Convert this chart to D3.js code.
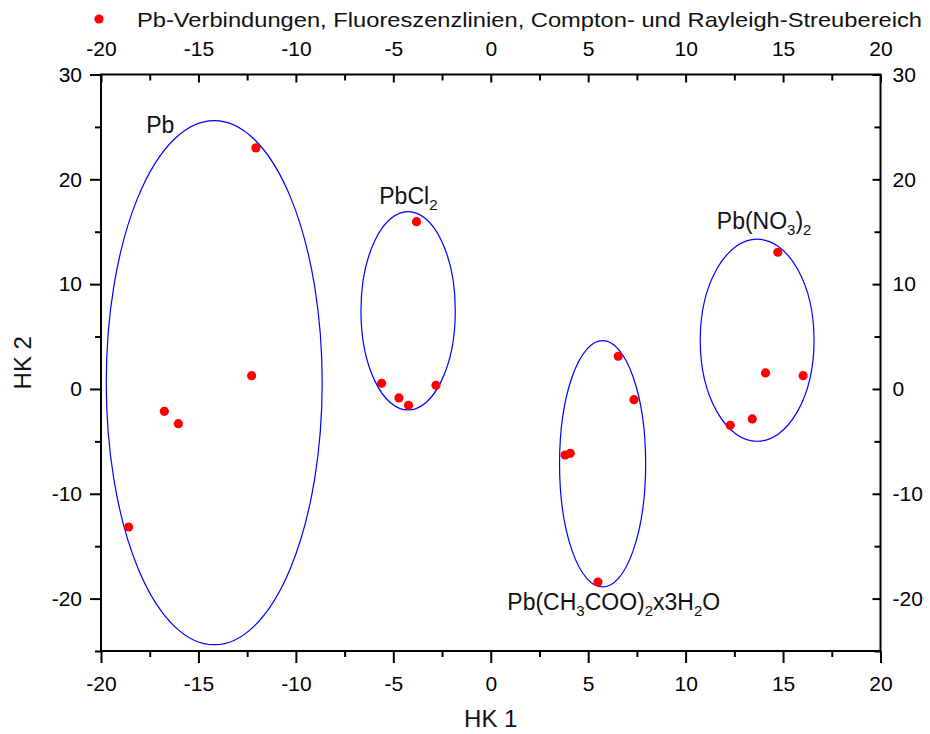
<!DOCTYPE html>
<html>
<head>
<meta charset="utf-8">
<script src="https://cdn.jsdelivr.net/npm/d3@7"></script>
<style>
  html, body { margin: 0; padding: 0; background: #fff; }
  svg { display: block; font-family: "Liberation Sans", Arial, sans-serif; }
</style>
</head>
<body>
<svg id="chart" width="930" height="734"></svg>
<script>
// Principal component scores (HK 1, HK 2) per sample, grouped by compound
const groupNames = ["Pb", "PbCl2", "Pb(CH3COO)2x3H2O", "Pb(NO3)2"];
const pointGroup = [0, 0, 0, 0, 0,  1, 1, 1, 1, 1,  2, 2, 2, 2, 2,  3, 3, 3, 3, 3];
const hk1Values  = [-12.05, -12.27, -16.75, -16.03, -18.58,
                    -3.81, -5.60, -2.81, -4.71, -4.22,
                     6.54, 7.35, 3.82, 4.08, 5.50,
                    14.73, 14.10, 16.03, 13.42, 12.29];
const hk2Values  = [23.0, 1.27, -2.13, -3.31, -13.17,
                    15.96, 0.54, 0.35, -0.86, -1.56,
                     3.12, -1.02, -6.30, -6.14, -18.42,
                    13.04, 1.53, 1.27, -2.86, -3.47];

// Confidence ellipses per group (centre and semi-axes in score units)
const ellipseCx = [-14.19, -4.24, 5.74, 13.67];
const ellipseCy = [0.60, 7.46, -7.14, 4.65];
const ellipseRx = [5.54, 2.42, 2.21, 2.92];
const ellipseRy = [25.0, 9.46, 11.75, 9.64];

// Group label anchors (score units) and their text pieces [text, isSubscript]
const labelHK1 = [-17.68, -5.72, 0.85, 11.6];
const labelHK2 = [24.4, 17.65, -21.1, 15.27];
const labelParts = [
  [["Pb", false]],
  [["PbCl", false], ["2", true]],
  [["Pb(CH", false], ["3", true], ["COO)", false], ["2", true], ["x3H", false], ["2", true], ["O", false]],
  [["Pb(NO", false], ["3", true], [")", false], ["2", true]]
];

const xMajor = [-20, -15, -10, -5, 0, 5, 10, 15, 20];
const xMinor = [-17.5, -12.5, -7.5, -2.5, 2.5, 7.5, 12.5, 17.5];
const yMajor = [-20, -10, 0, 10, 20, 30];
const yMinor = [-25, -15, -5, 5, 15, 25];

const legendText = "Pb-Verbindungen, Fluoreszenzlinien, Compton- und Rayleigh-Streubereich";
const xTitle = "HK 1";
const yTitle = "HK 2";

const svg = d3.select("#chart");
const plotLeft = 101, plotRight = 880.5, plotTop = 74.5, plotBottom = 651;

const x = d3.scaleLinear().domain([-20, 20]).range([plotLeft, plotRight]);
const y = d3.scaleLinear().domain([-25, 30]).range([plotBottom, plotTop]);

const fontSize = 21;
const fmt = d => String(d);   // plain hyphen-minus for negatives

function styleAxis(g) {
  g.select(".domain").remove();
  g.selectAll(".tick line").attr("stroke", "#000").attr("stroke-width", 2);
  g.selectAll(".tick text")
    .attr("fill", "#000")
    .style("font-size", fontSize + "px")
    .style("font-family", "'Liberation Sans', Arial, sans-serif");
}

// Bottom axis: outward ticks with labels
svg.append("g").attr("transform", `translate(0,${plotBottom})`)
  .call(d3.axisBottom(x).tickValues(xMinor).tickSize(6).tickFormat(""))
  .call(styleAxis);
svg.append("g").attr("transform", `translate(0,${plotBottom})`)
  .call(d3.axisBottom(x).tickValues(xMajor).tickSize(12).tickPadding(13).tickFormat(fmt))
  .call(styleAxis);

// Top axis: inward ticks, labels above
svg.append("g").attr("transform", `translate(0,${plotTop})`)
  .call(d3.axisTop(x).tickValues(xMinor).tickSizeInner(-6).tickSizeOuter(0).tickFormat(""))
  .call(styleAxis);
svg.append("g").attr("transform", `translate(0,${plotTop})`)
  .call(d3.axisTop(x).tickValues(xMajor).tickSizeInner(-8).tickSizeOuter(0).tickPadding(19).tickFormat(fmt))
  .call(styleAxis);

// Left axis: outward ticks
svg.append("g").attr("transform", `translate(${plotLeft},0)`)
  .call(d3.axisLeft(y).tickValues(yMinor).tickSize(6).tickFormat(""))
  .call(styleAxis);
svg.append("g").attr("transform", `translate(${plotLeft},0)`)
  .call(d3.axisLeft(y).tickValues(yMajor).tickSize(11).tickPadding(8).tickFormat(fmt))
  .call(styleAxis);

// Right axis: inward ticks, labels outside
svg.append("g").attr("transform", `translate(${plotRight},0)`)
  .call(d3.axisRight(y).tickValues(yMinor).tickSizeInner(-6).tickSizeOuter(0).tickFormat(""))
  .call(styleAxis);
svg.append("g").attr("transform", `translate(${plotRight},0)`)
  .call(d3.axisRight(y).tickValues(yMajor).tickSizeInner(-8).tickSizeOuter(0).tickPadding(12).tickFormat(fmt))
  .call(styleAxis);

// Plot frame
svg.append("rect")
  .attr("x", plotLeft).attr("y", plotTop)
  .attr("width", plotRight - plotLeft).attr("height", plotBottom - plotTop)
  .attr("fill", "none").attr("stroke", "#000").attr("stroke-width", 2);

// Ellipses
svg.append("g").selectAll("ellipse")
  .data(ellipseCx.map((cx, i) => ({ cx, cy: ellipseCy[i], rx: ellipseRx[i], ry: ellipseRy[i] })))
  .join("ellipse")
  .attr("cx", d => x(d.cx))
  .attr("cy", d => y(d.cy))
  .attr("rx", d => x(d.cx + d.rx) - x(d.cx))
  .attr("ry", d => y(d.cy - d.ry) - y(d.cy))
  .attr("fill", "none")
  .attr("stroke", "#0000ff")
  .attr("stroke-width", 1.2);

// Score points
svg.append("g").selectAll("circle")
  .data(hk1Values.map((v, i) => ({ hk1: v, hk2: hk2Values[i], g: pointGroup[i] })))
  .join("circle")
  .attr("cx", d => x(d.hk1))
  .attr("cy", d => y(d.hk2))
  .attr("r", 4.6)
  .attr("fill", "#ff0000");

// Group labels with subscripts
labelParts.forEach((parts, i) => {
  const t = svg.append("text")
    .attr("x", x(labelHK1[i]))
    .attr("y", y(labelHK2[i]))
    .attr("fill", "#111")
    .style("font-size", "23px");
  let shifted = false;
  parts.forEach(([s, sub]) => {
    const ts = t.append("tspan").text(s);
    if (sub && !shifted) { ts.attr("dy", 6).style("font-size", "15px"); shifted = true; }
    else if (sub) { ts.style("font-size", "15px"); }
    else if (shifted) { ts.attr("dy", -6); shifted = false; }
  });
});

// Legend
svg.append("circle").attr("cx", 99).attr("cy", 19).attr("r", 4.6).attr("fill", "#ff0000");
svg.append("text")
  .attr("x", 137).attr("y", 27)
  .attr("textLength", 785).attr("lengthAdjust", "spacingAndGlyphs")
  .style("font-size", "21px").attr("fill", "#111")
  .text(legendText);

// Axis titles
svg.append("text")
  .attr("x", (plotLeft + plotRight) / 2).attr("y", 727)
  .attr("text-anchor", "middle")
  .style("font-size", "24px").attr("fill", "#111")
  .text(xTitle);
svg.append("text")
  .attr("transform", `translate(31,${(plotTop + plotBottom) / 2}) rotate(-90)`)
  .attr("text-anchor", "middle")
  .style("font-size", "24px").attr("fill", "#111")
  .text(yTitle);
</script>
</body>
</html>
